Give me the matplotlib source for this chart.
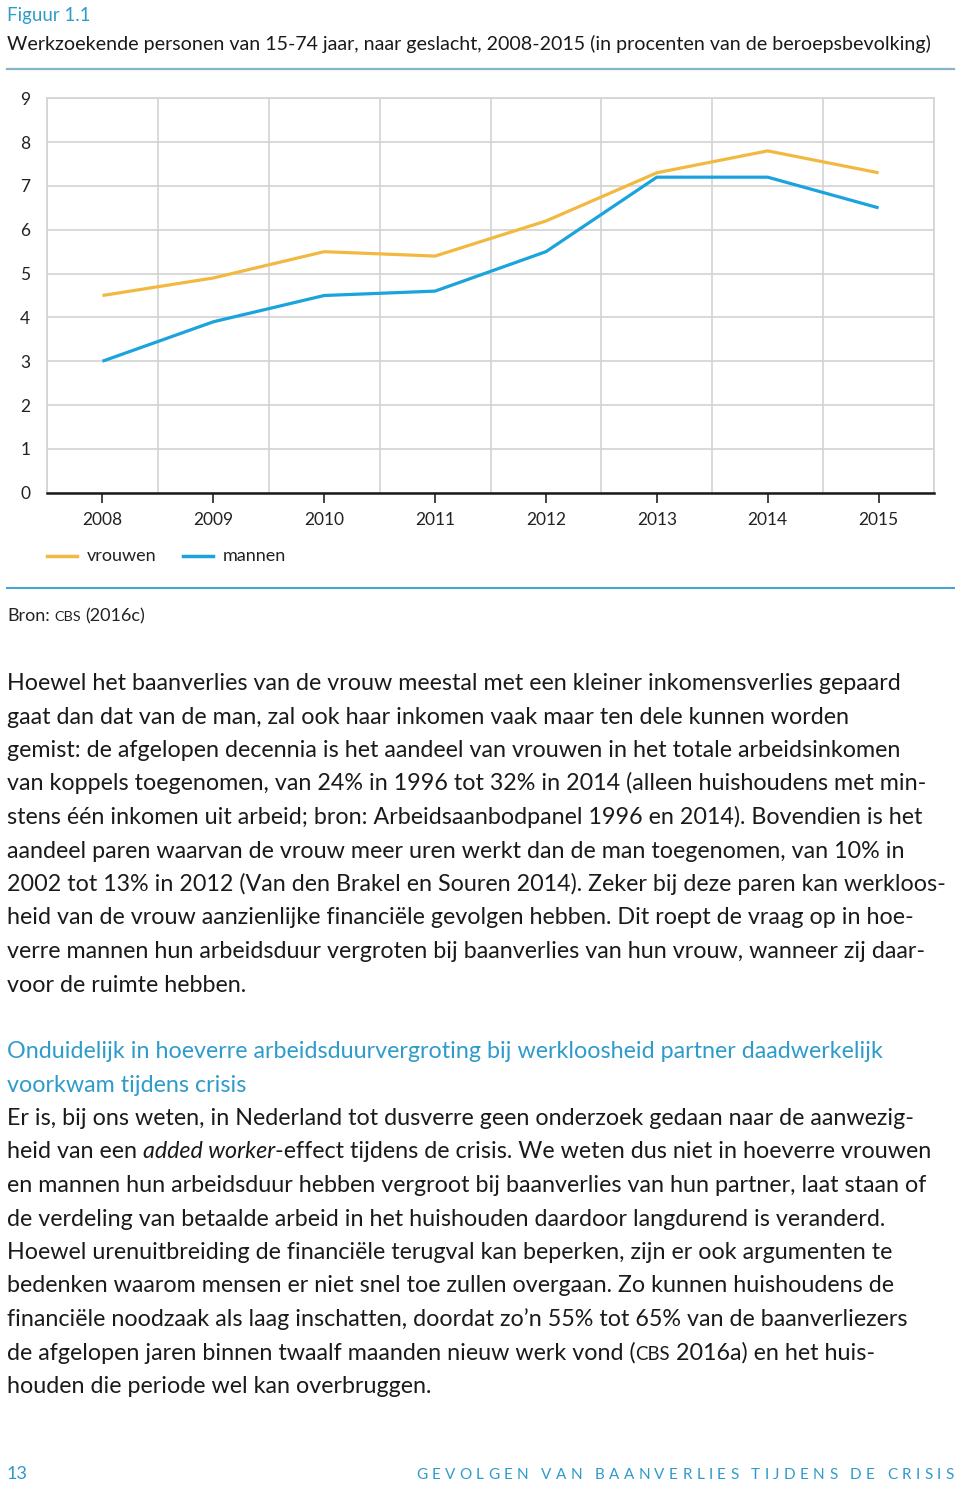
import matplotlib
matplotlib.use("Agg")
import matplotlib.pyplot as plt
from matplotlib.lines import Line2D
from matplotlib.ticker import FixedLocator
from matplotlib.textpath import TextPath
from matplotlib.font_manager import FontProperties, findfont
from matplotlib.ft2font import FT2Font

# data
years = [2008, 2009, 2010, 2011, 2012, 2013, 2014, 2015]
vrouwen = [4.5, 4.9, 5.5, 5.4, 6.2, 7.3, 7.8, 7.3]
mannen = [3.0, 3.9, 4.5, 4.6, 5.5, 7.2, 7.2, 6.5]
y_ticks = [0, 1, 2, 3, 4, 5, 6, 7, 8, 9]
series_names = ["vrouwen", "mannen"]

fig_label = "Figuur 1.1"
title = "Werkzoekende personen van 15-74 jaar, naar geslacht, 2008-2015 (in procenten van de beroepsbevolking)"

para1 = [
    "Hoewel het baanverlies van de vrouw meestal met een kleiner inkomensverlies gepaard",
    "gaat dan dat van de man, zal ook haar inkomen vaak maar ten dele kunnen worden",
    "gemist: de afgelopen decennia is het aandeel van vrouwen in het totale arbeidsinkomen",
    "van koppels toegenomen, van 24% in 1996 tot 32% in 2014 (alleen huishoudens met min-",
    "stens één inkomen uit arbeid; bron: Arbeidsaanbodpanel 1996 en 2014). Bovendien is het",
    "aandeel paren waarvan de vrouw meer uren werkt dan de man toegenomen, van 10% in",
    "2002 tot 13% in 2012 (Van den Brakel en Souren 2014). Zeker bij deze paren kan werkloos-",
    "heid van de vrouw aanzienlijke financiële gevolgen hebben. Dit roept de vraag op in hoe-",
    "verre mannen hun arbeidsduur vergroten bij baanverlies van hun vrouw, wanneer zij daar-",
    "voor de ruimte hebben.",
]
heading = [
    "Onduidelijk in hoeverre arbeidsduurvergroting bij werkloosheid partner daadwerkelijk",
    "voorkwam tijdens crisis",
]
para2 = [
    "Er is, bij ons weten, in Nederland tot dusverre geen onderzoek gedaan naar de aanwezig-",
    [("heid van een", "n"), (" ", "sp"), ("added worker", "i"),
     ("-effect tijdens de crisis. We weten dus niet in hoeverre vrouwen", "n")],
    "en mannen hun arbeidsduur hebben vergroot bij baanverlies van hun partner, laat staan of",
    "de verdeling van betaalde arbeid in het huishouden daardoor langdurend is veranderd.",
    "Hoewel urenuitbreiding de financiële terugval kan beperken, zijn er ook argumenten te",
    "bedenken waarom mensen er niet snel toe zullen overgaan. Zo kunnen huishoudens de",
    "financiële noodzaak als laag inschatten, doordat zo’n 55% tot 65% van de baanverliezers",
    [("de afgelopen jaren binnen twaalf maanden nieuw werk vond (", "n"), ("CBS", "sc"),
     (" 2016a) en het huis-", "n")],
    "houden die periode wel kan overbruggen.",
]
footer_page = "13"
footer_title = "GEVOLGEN VAN BAANVERLIES TIJDENS DE CRISIS"

ORANGE = "#F2B940"
BLUE = "#1AA3DC"
TEAL = "#2F9BCB"
GRID = "#D3D3D3"

W, H, DPI = 960, 1489, 100
FONT = "Lato"
plt.rcParams["font.family"] = [FONT, "DejaVu Sans"]

fig = plt.figure(figsize=(W / DPI, H / DPI), dpi=DPI)
renderer = fig.canvas.get_renderer()


def fx(x):
    return x / W


def fy(y):
    return 1 - y / H


def ink_width(s, size, style="normal"):
    tp = TextPath((0, 0), s, prop=FontProperties(family=FONT, size=size, style=style))
    return tp.get_extents().width * DPI / 72


def fit(s, px, style="normal"):
    return 10 * px / ink_width(s, 10, style)


def draw_parts(x, y, parts, size, color):
    sp = ink_width("a a", size) - ink_width("aa", size)
    for txt, kind in parts:
        if kind == "sp":
            x += sp
            continue
        lead = sp if txt.startswith(" ") else 0
        x += lead
        kw = dict(fontsize=size, color=color, va="baseline", ha="left")
        if kind == "i":
            kw["style"] = "italic"
        if kind == "sc":
            kw["fontsize"] = size * 0.8
        t = fig.text(fx(x), fy(y), txt.strip(), **kw)
        x = t.get_window_extent(renderer).x1
        if txt.endswith(" "):
            x += sp


def draw_block(lines, y0, step, size, color):
    for i, line in enumerate(lines):
        y = y0 + i * step
        if isinstance(line, str):
            fig.text(fx(7), fy(y), line, fontsize=size, color=color, va="baseline", ha="left")
        else:
            draw_parts(7, y, line, size, color)


# header
fig.text(fx(7), fy(21), fig_label, fontsize=fit(fig_label, 80), color=TEAL, va="baseline")
fig.text(fx(7), fy(50), title, fontsize=fit(title, 919), color="#1a1a1a", va="baseline")
fig.add_artist(Line2D([fx(7), fx(954)], [fy(69), fy(69)], color="#86B5C5", lw=1.6))

# chart
ax = fig.add_axes([fx(47), fy(492.7), fx(934) - fx(47), fy(98.3) - fy(492.7)])
ax.plot(years, vrouwen, color=ORANGE, lw=2.3, solid_capstyle="butt", zorder=3)
ax.plot(years, mannen, color=BLUE, lw=2.3, solid_capstyle="butt", zorder=3)
ax.set_xlim(years[0] - 0.5, years[-1] + 0.5)
ax.set_ylim(y_ticks[0], y_ticks[-1])
ax.set_xticks(years)
ax.set_xticklabels([str(y) for y in years], fontsize=12.5, color="#222222")
ax.xaxis.set_minor_locator(FixedLocator([y - 0.5 for y in years] + [years[-1] + 0.5]))
ax.set_yticks(y_ticks)
ax.set_yticklabels([str(v) for v in y_ticks], fontsize=12.5, color="#222222")
ax.grid(True, which="minor", axis="x", color=GRID, lw=1.2)
ax.grid(True, which="major", axis="y", color=GRID, lw=1.2)
ax.tick_params(axis="x", which="major", length=7, width=1.2, color="#222222", pad=7)
ax.tick_params(axis="x", which="minor", length=0)
ax.tick_params(axis="y", length=0, pad=12)
for side in ["top", "left", "right"]:
    ax.spines[side].set_color(GRID)
    ax.spines[side].set_linewidth(1.2)
ax.spines["bottom"].set_color("#1a1a1a")
ax.spines["bottom"].set_linewidth(1.8)
ax.spines["bottom"].set_zorder(4)

# legend
for (x0, name, col) in [(47, series_names[0], ORANGE), (183, series_names[1], BLUE)]:
    fig.add_artist(Line2D([fx(x0), fx(x0 + 30)], [fy(556), fy(556)], color=col, lw=2.5))
    fig.text(fx(x0 + 40), fy(561), name, fontsize=13, color="#222222", va="baseline")

fig.add_artist(Line2D([fx(7), fx(954)], [fy(588), fy(588)], color="#3FA3D3", lw=1.4))

draw_parts(7, 621, [("Bron:", "n"), (" ", "sp"), ("CBS", "sc"), (" (2016c)", "n")], 13, "#222222")

# body text: one size that keeps the widest lines inside the page
body_size = min(fit(para1[0], 905), fit(para1[6], 935), fit(para2[2], 940))
draw_block(para1, 690, 33.5, body_size, "#1a1a1a")
draw_block(heading, 1058, 33.5, min(body_size, fit(heading[0], 893)), TEAL)
draw_block(para2, 1125, 33.5, body_size, "#1a1a1a")

# footer, letter-spaced using the glyph advances
fig.text(fx(7), fy(1479), footer_page, fontsize=13, color=TEAL, va="baseline")
fsize = 11
ft = FT2Font(findfont(FontProperties(family=FONT)))
ft.set_size(fsize, DPI)
advances = []
for c in footer_title:
    g = ft.load_char(ord(c))
    advances.append(g.linearHoriAdvance / 65536)
track = (954 - 416 - sum(advances)) / (len(footer_title) - 1)
x = 416
for c, a in zip(footer_title, advances):
    if c != " ":
        fig.text(fx(x), fy(1479), c, fontsize=fsize, color=TEAL, va="baseline", ha="left")
    x += a + track

fig.savefig("out.png", dpi=DPI)
